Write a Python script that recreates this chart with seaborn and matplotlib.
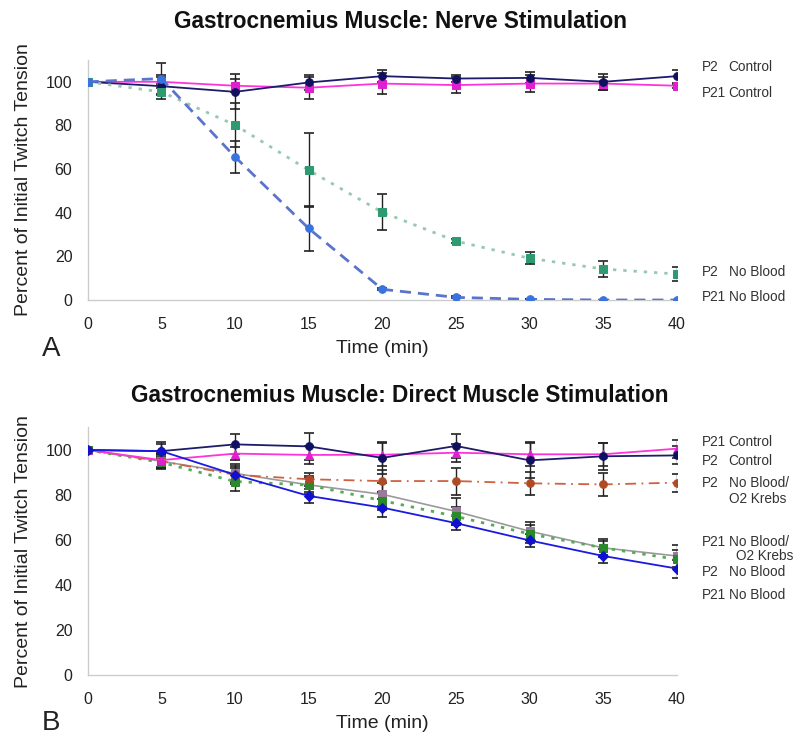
import matplotlib
matplotlib.use("Agg")
import matplotlib.pyplot as plt
import seaborn as sns

sns.set_theme(style="white")
plt.rcParams['font.family'] = ['Liberation Sans', 'DejaVu Sans']

time = [0, 5, 10, 15, 20, 25, 30, 35, 40]

# Panel A: nerve stimulation
a_p2_control = [100, 98, 95.4, 99.7, 102.6, 101.5, 101.8, 100, 102.6]
a_p2_control_err = [0, 4, 8, 3.5, 2.8, 1.5, 2.5, 3.8, 3]
a_p21_control = [100, 100, 98.2, 97.3, 99.2, 98.5, 99.2, 99.2, 98.2]
a_p21_control_err = [0, 3, 3, 5, 5, 3.5, 4, 3, 1]
a_p2_noblood = [100, 95.4, 80.2, 59.5, 40.2, 27, 19.1, 14.2, 11.9]
a_p2_noblood_err = [0, 3.5, 10, 17, 8.3, 1, 2.8, 3.5, 3.3]
a_p21_noblood = [100, 101.5, 65.6, 32.8, 4.9, 1.2, 0.3, 0, 0]
a_p21_noblood_err = [0, 7, 7.5, 10.3, 0.5, 0.5, 0, 0, 0]

# Panel B: direct muscle stimulation
b_p21_control = [100, 95.5, 98.4, 97.8, 97.9, 98.8, 98.1, 98.1, 100.6]
b_p21_control_err = [0, 3, 3, 4, 5, 4, 5, 5, 4]
b_p2_control = [100, 99.5, 102.5, 101.6, 96.5, 101.8, 95.4, 97.2, 97.6]
b_p2_control_err = [0, 4, 4.5, 6, 7, 5.5, 8, 6, 4]
b_p2_nb_o2 = [100, 95, 89, 87, 86.2, 86.2, 85.2, 84.7, 85.5]
b_p2_nb_o2_err = [0, 3, 4, 3, 5, 6, 5, 5, 4]
b_p21_nb_o2 = [100, 95, 89.6, 84.5, 80.3, 72.7, 63.9, 56.5, 52.9]
b_p21_nb_o2_err = [0, 3, 4, 4, 5, 6, 4, 4, 5]
b_p2_noblood = [100, 94.5, 86, 84.4, 77.5, 70.5, 62.7, 56.5, 51.4]
b_p2_noblood_err = [0, 3, 4, 3, 4, 4, 4, 3, 4]
b_p21_noblood = [100, 99.5, 89, 79.6, 74.4, 67.5, 59.8, 52.9, 47.3]
b_p21_noblood_err = [0, 3, 3, 3, 4, 3, 3, 3, 4]

a_label_prefix = ["P2", "P21", "P2", "P21"]
a_label_desc = ["Control", "Control", "No Blood", "No Blood"]
a_label_y = [106.9, 94.9, 13.0, 1.5]

b_label_prefix = ["P21", "P2", "P2", "", "P21", "", "P2", "P21"]
b_label_desc = ["Control", "Control", "No Blood/", "O2 Krebs",
                "No Blood/", "O2 Krebs", "No Blood", "No Blood"]
b_label_y = [103.6, 95.1, 85.3, 78.2, 59.1, 52.9, 45.8, 35.6]
b_label_indent = [0, 0, 0, 0.05, 0, 0.5, 0, 0]

fig = plt.figure(figsize=(8, 7.5), dpi=100)
axA = fig.add_axes([0.1096, 0.6, 0.7366, 0.32])
axB = fig.add_axes([0.1096, 0.1, 0.7366, 0.33])

def series(ax, y, err, color, ls, marker, mcolor, lw=1.3, ms=5.5):
    sns.lineplot(x=time, y=y, ax=ax, color=color, linestyle=ls, linewidth=lw,
                 marker=marker, markersize=ms, markerfacecolor=mcolor,
                 markeredgecolor=mcolor, zorder=3)
    ax.errorbar(time, y, yerr=err, fmt='none', ecolor='#222222', elinewidth=1,
                capsize=3.5, capthick=1.2, zorder=2)

series(axA, a_p21_control, a_p21_control_err, '#ff33dd', '-', 's', '#e020d0')
series(axA, a_p2_control, a_p2_control_err, '#1c1c6a', '-', 'o', '#101060')
series(axA, a_p2_noblood, a_p2_noblood_err, '#98c8b4', (0, (1.2, 2.5)), 's', '#2e9a72', lw=2)
series(axA, a_p21_noblood, a_p21_noblood_err, '#5a74cc', (0, (4, 2.5)), 'o', '#3a72e0', lw=2)

series(axB, b_p21_nb_o2, b_p21_nb_o2_err, '#9a9a9a', '-', 's', '#9a7a9a', lw=1.2)
series(axB, b_p2_noblood, b_p2_noblood_err, '#58aa58', (0, (1.2, 2.5)), 's', '#2a8a2a', lw=2)
series(axB, b_p2_nb_o2, b_p2_nb_o2_err, '#d06040', (0, (6, 3, 1, 3)), 'o', '#b04a24', lw=1.3)
series(axB, b_p21_control, b_p21_control_err, '#ff33dd', '-', '^', '#e020d0')
series(axB, b_p2_control, b_p2_control_err, '#1c1c6a', '-', 'o', '#101060')
series(axB, b_p21_noblood, b_p21_noblood_err, '#1a1ae0', '-', 'D', '#1010d0', ms=5)

for ax in (axA, axB):
    ax.set_xlim(0, 40)
    ax.set_ylim(0, 110)
    ax.set_xticks(range(0, 41, 5))
    ax.set_yticks(range(0, 101, 20))
    for s in ('top', 'right'):
        ax.spines[s].set_visible(False)
    for s in ('left', 'bottom'):
        ax.spines[s].set_color('#cccccc')
        ax.spines[s].set_linewidth(1)
    ax.tick_params(axis='both', which='both', length=4, width=1, color='#cccccc',
                   labelsize=11.5, labelcolor='#222222', direction='out')
    ax.tick_params(axis='y', pad=7)
    ax.tick_params(axis='x', pad=8)
    ax.set_xlabel("Time (min)", fontsize=14, color='#222222', labelpad=6)
    ax.set_ylabel("Percent of Initial Twitch Tension", fontsize=14, color='#222222',
                  labelpad=8)
    ax.yaxis.set_label_coords(-0.095, 0.5)

def add_labels(ax, prefixes, descs, ys, indents):
    for p, d, yy, ind in zip(prefixes, descs, ys, indents):
        if p:
            ax.text(41.7, yy, p, fontsize=9.8, va='center', ha='left', color='#333333',
                    clip_on=False)
        ax.text(43.5 + ind, yy, d, fontsize=9.8, va='center', ha='left', color='#333333',
                clip_on=False)

add_labels(axA, a_label_prefix, a_label_desc, a_label_y, [0] * 4)
add_labels(axB, b_label_prefix, b_label_desc, b_label_y, b_label_indent)

fig.text(0.5, 0.972, "Gastrocnemius Muscle: Nerve Stimulation", ha='center', va='center',
         fontsize=16.3, fontweight='bold', color='#111111')
fig.text(0.5, 0.472, "Gastrocnemius Muscle: Direct Muscle Stimulation", ha='center',
         va='center', fontsize=16.3, fontweight='bold', color='#111111')
fig.text(0.064, 0.535, "A", fontsize=20, ha='center', va='center', color='#222222')
fig.text(0.064, 0.036, "B", fontsize=20, ha='center', va='center', color='#222222')

fig.savefig("out.png", dpi=100)
